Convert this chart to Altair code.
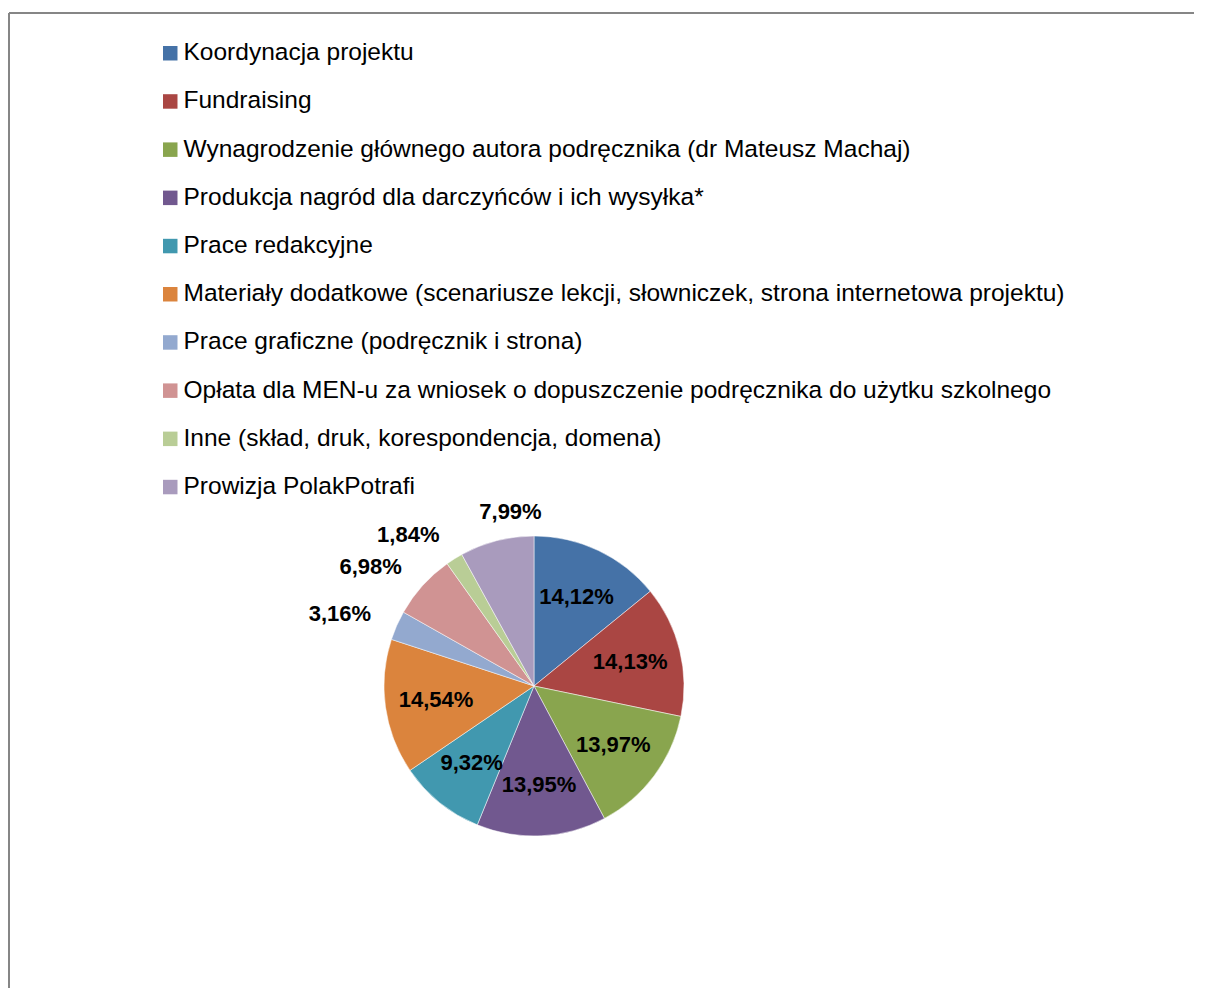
import altair as alt
import pandas as pd

categories = [
    "Koordynacja projektu",
    "Fundraising",
    "Wynagrodzenie głównego autora podręcznika (dr Mateusz Machaj)",
    "Produkcja nagród dla darczyńców i ich wysyłka*",
    "Prace redakcyjne",
    "Materiały dodatkowe (scenariusze lekcji, słowniczek, strona internetowa projektu)",
    "Prace graficzne (podręcznik i strona)",
    "Opłata dla MEN-u za wniosek o dopuszczenie podręcznika do użytku szkolnego",
    "Inne (skład, druk, korespondencja, domena)",
    "Prowizja PolakPotrafi",
]
values = [14.12, 14.13, 13.97, 13.95, 9.32, 14.54, 3.16, 6.98, 1.84, 7.99]
colors = ["#4572A7", "#AA4643", "#89A54E", "#71588F", "#4198AF",
          "#DB843D", "#93A9CF", "#D09393", "#B9CD96", "#A99BBD"]

df = pd.DataFrame({
    "cat": categories,
    "val": values,
    "order": list(range(len(categories))),
    "label": [f"{v:.2f}".replace(".", ",") + "%" for v in values],
})

W, H = 1185, 975
CX, CY = 525, 673
R = 150

base = alt.Chart(df).encode(
    theta=alt.Theta("val:Q", stack=True),
    order=alt.Order("order:Q"),
)

pie = base.mark_arc(outerRadius=R, stroke="white", strokeWidth=0.5).encode(
    x=alt.value(CX),
    y=alt.value(CY),
    color=alt.Color(
        "cat:N",
        sort=categories,
        scale=alt.Scale(domain=categories, range=colors),
        legend=alt.Legend(
            orient="none",
            legendX=149,
            legendY=28,
            title=None,
            symbolType="square",
            symbolSize=210,
            symbolStrokeWidth=0,
            symbolOffset=0,
            labelOffset=1,
            labelFont="Liberation Sans",
            labelFontSize=24.5,
            labelColor="#000000",
            labelLimit=1100,
            rowPadding=23.2,
            padding=0,
            direction="vertical",
        ),
    ),
)

txt_style = dict(font="Liberation Sans", fontSize=22, fontWeight="bold", color="#000000")

inner = base.transform_calculate(
    t="datum.val >= 9 ? datum.label : ''"
).mark_text(
    radius=R * 0.66, align="center", baseline="middle", **txt_style
).encode(x=alt.value(CX), y=alt.value(CY), text="t:N")

outer_r = base.transform_calculate(
    t="datum.val < 9 && datum.order < 9 ? datum.label : ''"
).mark_text(
    radius=R + 28, align="right", baseline="middle", **txt_style
).encode(x=alt.value(CX), y=alt.value(CY), text="t:N")

outer_l = base.transform_calculate(
    t="datum.order == 9 ? datum.label : ''"
).mark_text(
    radius=R + 30, align="left", baseline="middle", dx=-10, **txt_style
).encode(x=alt.value(CX), y=alt.value(CY), text="t:N")

frame_top = alt.Chart(df).mark_rule(color="#868686", strokeWidth=1.5).encode(
    x=alt.value(0), x2=alt.value(W), y=alt.value(0)
)
frame_left = alt.Chart(df).mark_rule(color="#868686", strokeWidth=1.5).encode(
    x=alt.value(0), y=alt.value(0), y2=alt.value(H)
)

chart = alt.layer(frame_top, frame_left, pie, inner, outer_r, outer_l).properties(
    width=W, height=H, padding={"left": 0, "top": 4, "right": 0, "bottom": 0}
).configure_view(stroke=None)

chart.save("out.html", embed_options={"renderer": "svg", "actions": False})
